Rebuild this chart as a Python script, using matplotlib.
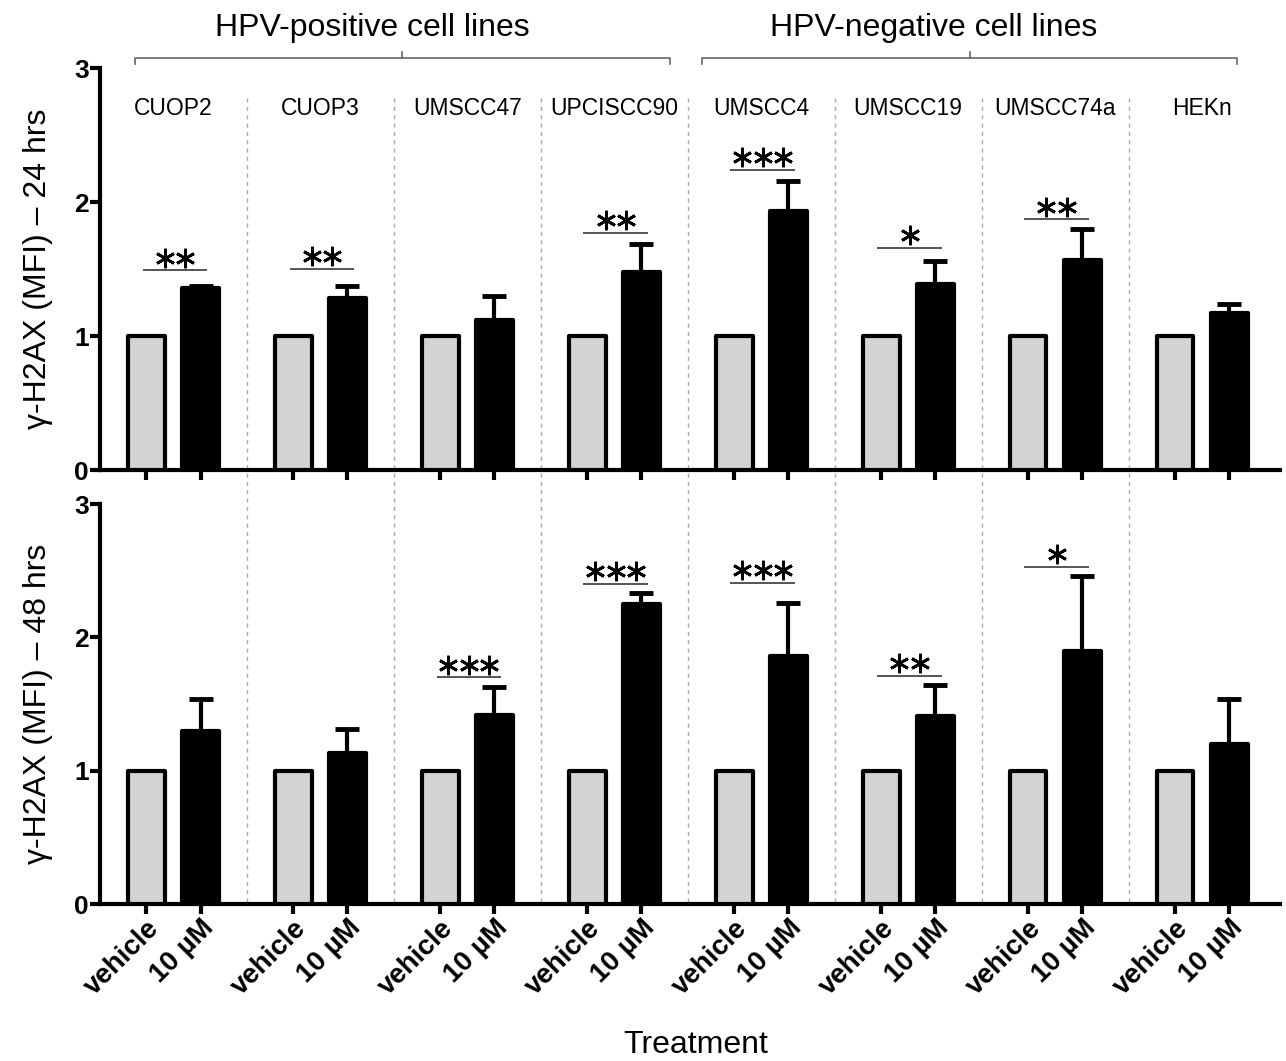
import matplotlib.pyplot as plt
import matplotlib.transforms as mtransforms
import numpy as np

plt.rcParams['font.family'] = ['Liberation Sans', 'DejaVu Sans']

# Data
cell_lines = ['CUOP2', 'CUOP3', 'UMSCC47', 'UPCISCC90', 'UMSCC4', 'UMSCC19', 'UMSCC74a', 'HEKn']
treatments = ['vehicle', '10 \u00b5M']

vehicle_24 = [1, 1, 1, 1, 1, 1, 1, 1]
treated_24 = [1.36, 1.28, 1.12, 1.48, 1.93, 1.39, 1.57, 1.17]
err_24 = [0.01, 0.09, 0.18, 0.21, 0.23, 0.17, 0.23, 0.07]
sig_24 = ['**', '**', '', '**', '***', '*', '**', '']
sig_y_24 = [1.49, 1.50, np.nan, 1.77, 2.24, 1.66, 1.87, np.nan]

vehicle_48 = [1, 1, 1, 1, 1, 1, 1, 1]
treated_48 = [1.30, 1.13, 1.42, 2.25, 1.86, 1.41, 1.90, 1.20]
err_48 = [0.24, 0.18, 0.21, 0.08, 0.40, 0.23, 0.56, 0.34]
sig_48 = ['', '', '***', '***', '***', '**', '*', '']
sig_y_48 = [np.nan, np.nan, 1.70, 2.40, 2.41, 1.71, 2.53, np.nan]

hpv_groups = ['HPV-positive cell lines', 'HPV-negative cell lines']

W, H = 1286, 1061
fig = plt.figure(figsize=(W / 100, H / 100), dpi=100)
ax1 = fig.add_axes([100 / W, 1 - 470 / H, 1180 / W, 402 / H])
ax2 = fig.add_axes([100 / W, 1 - 904 / H, 1180 / W, 400 / H])

x = np.arange(len(cell_lines))
off = 0.184
width = 0.25


def draw_panel(ax, veh, trt, err, sig, sig_y, ylabel):
    ax.set_facecolor('none')
    ax.bar(x - off, veh, width, color='#d3d3d3', edgecolor='black', linewidth=3,
           joinstyle='round', zorder=3)
    ax.bar(x + off, trt, width, color='black', edgecolor='black', linewidth=3,
           joinstyle='round', zorder=3)
    ax.errorbar(x + off, trt, yerr=[np.zeros(len(err)), err], fmt='none',
                ecolor='black', elinewidth=3, capsize=8.5, capthick=3.5, zorder=4)
    # significance markers
    for i, (s, yy) in enumerate(zip(sig, sig_y)):
        if not s:
            continue
        ax.plot([x[i] - 0.21, x[i] + 0.23], [yy, yy], color='#555555', lw=1.4,
                zorder=5, solid_capstyle='butt')
        n = len(s)
        sx = x[i] + 0.01 + (np.arange(n) - (n - 1) / 2) * 0.14
        ax.plot(sx, np.full(n, yy + 0.095), ls='none', marker=(6, 2, 0), ms=14,
                mew=2.0, color='black', zorder=5)
    ax.set_xlim(-0.5, 7.53)
    ax.set_ylim(0, 3)
    ax.set_yticks([0, 1, 2, 3])
    ax.set_yticklabels(['0', '1', '2', '3'], fontsize=19, fontweight='bold')
    ax.set_xticks(np.ravel(np.column_stack([x - off, x + off])))
    for side in ['top', 'right']:
        ax.spines[side].set_visible(False)
    for side in ['left', 'bottom']:
        ax.spines[side].set_linewidth(3)
    ax.tick_params(axis='both', length=7, width=3, direction='out', pad=1)
    ax.set_ylabel(ylabel, fontsize=23)
    ax.yaxis.set_label_coords(-0.04, 0.5)


draw_panel(ax1, vehicle_24, treated_24, err_24, sig_24, sig_y_24,
           '\u03b3-H2AX (MFI) \u2013 24 hrs')
draw_panel(ax2, vehicle_48, treated_48, err_48, sig_48, sig_y_48,
           '\u03b3-H2AX (MFI) \u2013 48 hrs')

ax1.tick_params(axis='x', labelbottom=False)
ax2.set_xticklabels(treatments * len(cell_lines), rotation=45, ha='right', va='top',
                    rotation_mode='anchor', fontsize=20, fontweight='bold')

# cell line names
for i, name in enumerate(cell_lines):
    ax1.text(x[i], 0.90, name, transform=ax1.get_xaxis_transform(), ha='center',
             va='center', fontsize=16.5)

# dashed separators across both panels
sep_tr = mtransforms.blended_transform_factory(ax1.transData, fig.transFigure)
for i in range(len(cell_lines) - 1):
    ax1.plot([x[i] + 0.5, x[i] + 0.5], [1 - 98 / H, 1 - 904 / H], transform=sep_tr,
             color='#aaaaaa', lw=1, ls=(0, (3, 3)), clip_on=False, zorder=1)

# HPV status brackets
btr = ax1.get_xaxis_transform()
brackets = [(-0.265, 3.376, 1.35), (3.60, 7.236, 5.17)]
for (x0, x1, tx), label in zip(brackets, hpv_groups):
    ax1.plot([x0, x0, x1, x1], [1.010, 1.025, 1.025, 1.010], transform=btr,
             color='#666666', lw=1.2, clip_on=False)
    xm = (x0 + x1) / 2
    ax1.plot([xm, xm], [1.025, 1.04], transform=btr, color='#666666', lw=1.2,
             clip_on=False)
    ax1.text(tx, 1.10, label, transform=btr, ha='center', va='center', fontsize=23)

fig.text(0.541, 1 - 1045 / H, 'Treatment', ha='center', va='center', fontsize=23)

fig.savefig('out.png', dpi=100)
